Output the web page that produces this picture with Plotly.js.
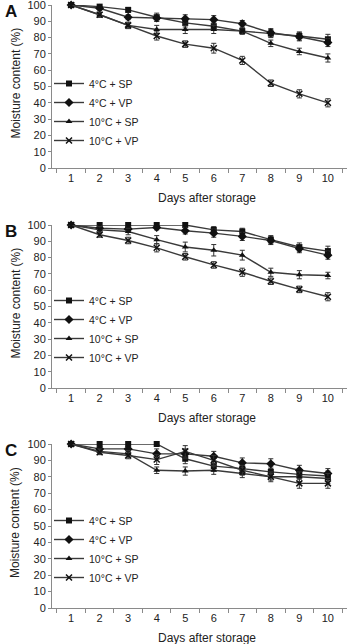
<!DOCTYPE html>
<html>
<head>
<meta charset="utf-8">
<script src="https://cdn.plot.ly/plotly-3.0.1.min.js"></script>
<style>html,body{margin:0;padding:0;background:#fff;}#chart{width:350px;height:644px;}</style>
</head>
<body>
<div id="chart"></div>
<script>
// ---- data ----
const days = ['1','2','3','4','5','6','7','8','9','10'];
const seriesNames = ['4°C + SP','4°C + VP','10°C + SP','10°C + VP'];
const panelLabels = ['A','B','C'];
const xTitle = 'Days after storage';
const yTitle = 'Moisture content (%)';

// Panel A
const A_SP4  = [100, 99, 97, 92.5, 89, 87, 84, 82.5, 81, 79];
const A_VP4  = [100, 98, 92.5, 92, 91.5, 91, 88.5, 83, 80.5, 77];
const A_SP10 = [100, 94, 87.5, 85, 85, 85, 84, 76.5, 71.5, 67.5];
const A_VP10 = [100, 94, 87.5, 81, 76, 73.5, 66, 52, 45.5, 40];
const A_SP4e  = [0, 1, 1.5, 2.5, 2.5, 2.5, 1.5, 2.5, 2.5, 3];
const A_VP4e  = [0, 1, 1.5, 2, 2.5, 2.5, 2, 2.5, 2.5, 2.5];
const A_SP10e = [0, 1.5, 2, 2.5, 2.5, 2.5, 2, 2, 2, 2.5];
const A_VP10e = [0, 1.5, 1.5, 2.5, 2, 3, 2.5, 2, 2.5, 2.5];

// Panel B
const B_SP4  = [100, 100, 100, 100, 100, 97, 96, 91, 86.5, 84];
const B_VP4  = [100, 98, 97.5, 98.5, 96.5, 95, 93, 90.5, 85.5, 81.5];
const B_SP10 = [100, 97, 96, 91, 86.5, 84.5, 81.5, 71, 69.5, 69];
const B_VP10 = [100, 94, 90.5, 86, 80.5, 75.5, 71, 65.5, 60.5, 56];
const B_SP4e  = [0, 1, 1, 1, 1, 2, 2, 2.5, 2.5, 3];
const B_VP4e  = [0, 1.5, 1.5, 1.5, 2, 2.5, 2.5, 2.5, 2.5, 2.5];
const B_SP10e = [0, 2, 2, 2.5, 3, 3.5, 3, 2.5, 2.5, 2];
const B_VP10e = [0, 1.5, 2, 2.5, 2, 2, 2.5, 2, 2, 2.5];

// Panel C
const C_SP4  = [100, 100, 100, 100, 91, 86.5, 85, 83, 81.5, 80.5];
const C_VP4  = [100, 97, 97, 94, 94, 92.5, 88.5, 88, 84, 82];
const C_SP10 = [100, 95.5, 94, 84, 83.5, 84, 82, 80, 80, 79];
const C_VP10 = [100, 95, 93, 90.5, 95.5, 90, 84, 80, 76, 76];
const C_SP4e  = [0, 1.5, 1.5, 1.5, 3, 3, 3, 3, 3, 3];
const C_VP4e  = [0, 1.5, 1.5, 3, 3, 3, 3, 3, 3, 3];
const C_SP10e = [0, 1.5, 2, 2, 2.5, 2.5, 2.5, 2, 3, 3];
const C_VP10e = [0, 1.5, 2, 3, 3.5, 3, 3, 3, 3, 3];

const panels = [
  [A_SP4, A_VP4, A_SP10, A_VP10],
  [B_SP4, B_VP4, B_SP10, B_VP10],
  [C_SP4, C_VP4, C_SP10, C_VP10]
];
const panelErr = [
  [A_SP4e, A_VP4e, A_SP10e, A_VP10e],
  [B_SP4e, B_VP4e, B_SP10e, B_VP10e],
  [C_SP4e, C_VP4e, C_SP10e, C_VP10e]
];

// ---- styling / layout ----
const FONT = 'Liberation Sans, Arial, sans-serif';
const TXT = '#222';
const AX = '#8a8a8a';
const LINE = '#3a3a3a';
const symbols = ['square','diamond','triangle-up','x-thin-open'];
const sizes = [6, 7, 6, 6];

const W = 350, H = 644;
const mL = 52, mR = 3, mT = 4, mB = 36;
const plotTop = mT, plotBot = H - mB, plotH = plotBot - plotTop, plotW = W - mL - mR;
const py = p => (plotBot - p) / plotH;
const px = p => (p - mL) / plotW;

// pixel extents of each panel's plot area (top=100, bottom=0)
const pTop = [5, 225, 444];
const pBot = [168, 388, 608];
const legTop = [69, 286, 506];

const traces = [];
panels.forEach((ser, pi) => {
  const sfx = pi === 0 ? '' : String(pi + 1);
  ser.forEach((vals, si) => {
    const sym = symbols[si];
    traces.push({
      type: 'scatter', mode: 'lines+markers',
      x: days, y: vals,
      name: seriesNames[si],
      xaxis: 'x' + sfx, yaxis: 'y' + sfx,
      legend: 'legend' + sfx,
      line: {color: LINE, width: 1.4},
      marker: {symbol: sym, size: sizes[si], color: '#111',
               line: {color: '#111', width: sym.indexOf('open') >= 0 ? 1.5 : 0}},
      error_y: {type: 'data', array: panelErr[pi][si], visible: true,
                color: '#333', thickness: 1, width: 2.5},
      cliponaxis: false
    });
  });
});

const layout = {
  width: W, height: H,
  margin: {l: mL, r: mR, t: mT, b: mB},
  paper_bgcolor: '#fff', plot_bgcolor: '#fff',
  font: {family: FONT, color: TXT, size: 11},
  showlegend: true,
  annotations: []
};

for (let pi = 0; pi < 3; pi++) {
  const sfx = pi === 0 ? '' : String(pi + 1);
  layout['xaxis' + sfx] = {
    domain: [0, 1], anchor: 'y' + sfx, type: 'category',
    tickson: 'boundaries', ticks: 'outside', ticklen: 4, tickcolor: AX,
    showline: true, linecolor: AX, linewidth: 1, showgrid: false, zeroline: false,
    ticklabeloverflow: 'allow',
    tickfont: {size: 11, color: TXT, family: FONT}, fixedrange: true
  };
  layout['yaxis' + sfx] = {
    domain: [py(pBot[pi]), py(pTop[pi])], anchor: 'x' + sfx,
    range: [0, 100], dtick: 10, tick0: 0,
    ticks: 'outside', ticklen: 3, tickcolor: AX,
    showline: true, linecolor: AX, linewidth: 1, showgrid: false, zeroline: false,
    ticklabeloverflow: 'allow',
    tickfont: {size: 11, color: TXT, family: FONT}, fixedrange: true
  };
  layout['legend' + sfx] = {
    x: px(49), xanchor: 'left', xref: 'paper',
    y: py(legTop[pi]), yanchor: 'top', yref: 'paper',
    bgcolor: 'rgba(0,0,0,0)', borderwidth: 0,
    font: {size: 10.5, color: TXT, family: FONT},
    tracegroupgap: 0
  };
  // panel letter
  layout.annotations.push({
    text: '<b>' + panelLabels[pi] + '</b>', xref: 'paper', yref: 'paper',
    x: px(11), y: py(pTop[pi] + 6), xanchor: 'center', yanchor: 'middle',
    showarrow: false, font: {size: 17, color: '#111', family: FONT}
  });
  // y title
  layout.annotations.push({
    text: yTitle, xref: 'paper', yref: 'paper',
    x: px(15), y: py((pTop[pi] + pBot[pi]) / 2 - 3), xanchor: 'center', yanchor: 'middle',
    textangle: -90, showarrow: false, font: {size: 12, color: TXT, family: FONT}
  });
  // x title
  layout.annotations.push({
    text: xTitle, xref: 'paper', yref: 'paper',
    x: px(207), y: py(pBot[pi] + 30), xanchor: 'center', yanchor: 'middle',
    showarrow: false, font: {size: 12, color: TXT, family: FONT}
  });
}

Plotly.newPlot('chart', traces, layout, {displayModeBar: false, staticPlot: true});
</script>
</body>
</html>
